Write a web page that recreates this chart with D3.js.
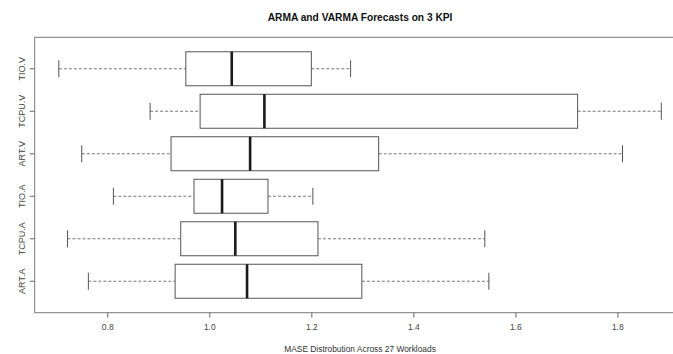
<!DOCTYPE html>
<html>
<head>
<meta charset="utf-8">
<script src="https://cdn.jsdelivr.net/npm/d3@7"></script>
<style>
  html, body { margin: 0; padding: 0; background: #fff; }
  svg { display: block; font-family: "Liberation Sans", Arial, sans-serif; }
</style>
</head>
<body>
<svg id="chart" width="673" height="354"></svg>
<script>
// Five-number summaries per model/KPI, bottom row first
const categories   = ["ART.A", "TCPU.A", "TIO.A", "ART.V", "TCPU.V", "TIO.V"];
const lowerWhisker = [0.763, 0.722, 0.812, 0.750, 0.884, 0.705];
const q1           = [0.933, 0.944, 0.970, 0.925, 0.982, 0.954];
const median       = [1.074, 1.051, 1.025, 1.080, 1.108, 1.044];
const q3           = [1.299, 1.213, 1.115, 1.332, 1.722, 1.200];
const upperWhisker = [1.548, 1.540, 1.203, 1.810, 1.886, 1.277];
const xTicks       = [0.8, 1.0, 1.2, 1.4, 1.6, 1.8];

const rows = categories.map((c, i) => ({
  cat: c, lo: lowerWhisker[i], q1: q1[i], med: median[i], q3: q3[i], hi: upperWhisker[i]
}));

const svg = d3.select("#chart");
const plot = { left: 34.7, right: 685.4, top: 37.3, bottom: 312.7 };

// x range padded by 4% on both sides
const lo = d3.min(lowerWhisker), hi = d3.max(upperWhisker);
const pad = (hi - lo) * 0.04;
const x = d3.scaleLinear().domain([lo - pad, hi + pad]).range([plot.left, plot.right]);

const y = d3.scaleBand()
  .domain(categories)
  .range([plot.bottom, plot.top])
  .paddingInner(0.2)
  .paddingOuter(0.34);

const bw = y.bandwidth();
const cy = d => y(d.cat) + bw / 2;

// Plot frame
svg.append("rect")
  .attr("x", plot.left).attr("y", plot.top)
  .attr("width", plot.right - plot.left).attr("height", plot.bottom - plot.top)
  .attr("fill", "none").attr("stroke", "#7a7a7a").attr("stroke-width", 1);

const g = svg.append("g");
const box = g.selectAll("g.box").data(rows).join("g").attr("class", "box");

// Dashed whiskers
box.append("line")
  .attr("x1", d => x(d.lo)).attr("x2", d => x(d.q1))
  .attr("y1", cy).attr("y2", cy)
  .attr("stroke", "#777").attr("stroke-dasharray", "3,2");
box.append("line")
  .attr("x1", d => x(d.q3)).attr("x2", d => x(d.hi))
  .attr("y1", cy).attr("y2", cy)
  .attr("stroke", "#777").attr("stroke-dasharray", "3,2");

// Whisker staples
[d => d.lo, d => d.hi].forEach(acc => {
  box.append("line")
    .attr("x1", d => x(acc(d))).attr("x2", d => x(acc(d)))
    .attr("y1", d => cy(d) - bw * 0.25).attr("y2", d => cy(d) + bw * 0.25)
    .attr("stroke", "#555");
});

// Interquartile boxes
box.append("rect")
  .attr("x", d => x(d.q1)).attr("width", d => x(d.q3) - x(d.q1))
  .attr("y", d => y(d.cat)).attr("height", bw)
  .attr("fill", "#fff").attr("stroke", "#555");

// Medians
box.append("line")
  .attr("x1", d => x(d.med)).attr("x2", d => x(d.med))
  .attr("y1", d => y(d.cat)).attr("y2", d => y(d.cat) + bw)
  .attr("stroke", "#1a1a1a").attr("stroke-width", 2.6);

// X axis
const xAxis = svg.append("g")
  .attr("transform", `translate(0,${plot.bottom})`)
  .call(d3.axisBottom(x).tickValues(xTicks).tickFormat(d3.format(".1f")).tickSizeInner(5).tickSizeOuter(0).tickPadding(6));
xAxis.select(".domain").remove();
xAxis.selectAll(".tick line").attr("stroke", "#666");
xAxis.selectAll(".tick text").attr("fill", "#444").style("font-size", "8.5px")
  .style("font-family", "'Liberation Sans', Arial, sans-serif");

// Y axis with rotated category labels
const yAxis = svg.append("g")
  .attr("transform", `translate(${plot.left},0)`)
  .call(d3.axisLeft(y).tickSizeInner(5).tickSizeOuter(0).tickPadding(0));
yAxis.select(".domain").remove();
yAxis.selectAll(".tick line").attr("stroke", "#666");
yAxis.selectAll(".tick text")
  .attr("x", null).attr("dy", null)
  .attr("text-anchor", "middle")
  .attr("transform", "translate(-10,0) rotate(-90)")
  .attr("fill", "#444").style("font-size", "9px")
  .style("font-family", "'Liberation Sans', Arial, sans-serif");

const midX = (plot.left + plot.right) / 2;

// Title
svg.append("text")
  .attr("x", midX).attr("y", 20.5)
  .attr("text-anchor", "middle")
  .attr("font-weight", "bold").attr("font-size", "10.2px").attr("fill", "#111")
  .text("ARMA and VARMA Forecasts on 3 KPI");

// X axis title
svg.append("text")
  .attr("x", midX).attr("y", 352)
  .attr("text-anchor", "middle")
  .attr("font-size", "8.4px").attr("fill", "#333")
  .text("MASE Distrobution Across 27 Workloads");
</script>
</body>
</html>
